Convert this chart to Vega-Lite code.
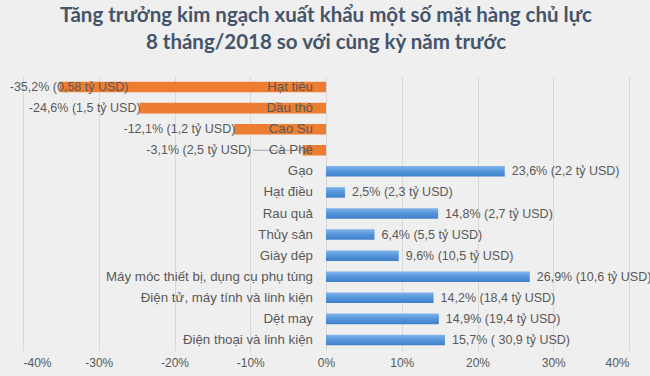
{
  "$schema": "https://vega.github.io/schema/vega-lite/v6.json",
  "width": 606,
  "height": 274,
  "autosize": "none",
  "padding": {"left": 23, "top": 76.5, "right": 21, "bottom": 25.5},
  "background": "#efefef",
  "title": {
    "text": ["Tăng trưởng kim ngạch xuất khẩu một số mặt hàng chủ lực", "8 tháng/2018 so với cùng kỳ năm trước"],
    "font": "Lato",
    "fontSize": 20.5,
    "fontWeight": "bold",
    "color": "#44546A",
    "lineHeight": 27,
    "anchor": "middle",
    "offset": 23
  },
  "data": {
    "values": [
      {"name": "Hạt tiêu", "value": -35.2, "label": "-35,2% (0,58 tỷ USD)"},
      {"name": "Dầu thô", "value": -24.6, "label": "-24,6% (1,5 tỷ USD)"},
      {"name": "Cao Su", "value": -12.1, "label": "-12,1% (1,2 tỷ USD)"},
      {"name": "Cà Phê", "value": -3.1, "label": "-3,1% (2,5 tỷ USD)"},
      {"name": "Gạo", "value": 23.6, "label": "23,6% (2,2 tỷ USD)"},
      {"name": "Hạt điều", "value": 2.5, "label": "2,5% (2,3 tỷ USD)"},
      {"name": "Rau quả", "value": 14.8, "label": "14,8% (2,7 tỷ USD)"},
      {"name": "Thủy sản", "value": 6.4, "label": "6,4% (5,5 tỷ USD)"},
      {"name": "Giày dép", "value": 9.6, "label": "9,6% (10,5 tỷ USD)"},
      {"name": "Máy móc thiết bị, dụng cụ phụ tùng", "value": 26.9, "label": "26,9% (10,6 tỷ USD)"},
      {"name": "Điện tử, máy tính và linh kiện", "value": 14.2, "label": "14,2% (18,4 tỷ USD)"},
      {"name": "Dệt may", "value": 14.9, "label": "14,9% (19,4 tỷ USD)"},
      {"name": "Điện thoại và linh kiện", "value": 15.7, "label": "15,7% ( 30,9 tỷ USD)"}
    ]
  },
  "encoding": {
    "y": {
      "field": "name",
      "type": "nominal",
      "sort": null,
      "scale": {"paddingInner": 0.5, "paddingOuter": 0.25},
      "axis": null
    }
  },
  "layer": [
    {
      "mark": {"type": "bar", "color": "#ED7D31"},
      "transform": [{"filter": "datum.value < 0"}],
      "encoding": {
        "x": {
          "field": "value",
          "type": "quantitative",
          "scale": {"domain": [-40, 40], "nice": false},
          "axis": {
            "values": [-40, -30, -20, -10, 0, 10, 20, 30, 40],
            "labelExpr": "datum.value + '%'",
            "domain": false,
            "ticks": false,
            "grid": true,
            "gridColor": "#d9d9d9",
            "gridWidth": 1,
            "labelFont": "Liberation Sans",
            "labelFontSize": 12,
            "labelColor": "#595959",
            "labelPadding": 7,
            "title": null
          }
        },
        "x2": {"datum": 0}
      }
    },
    {
      "mark": {
        "type": "bar",
        "color": {
          "gradient": "linear",
          "x1": 0, "y1": 0, "x2": 0, "y2": 1,
          "stops": [
            {"offset": 0, "color": "#80b4ea"},
            {"offset": 0.5, "color": "#5595dc"},
            {"offset": 1, "color": "#3f80cc"}
          ]
        }
      },
      "transform": [{"filter": "datum.value >= 0"}],
      "encoding": {
        "x": {"field": "value", "type": "quantitative"},
        "x2": {"datum": 0}
      }
    },
    {
      "mark": {"type": "rule", "color": "#a6a6a6", "strokeWidth": 1},
      "transform": [
        {"filter": "datum.value < 0 && datum.value > -10"},
        {"calculate": "-9.6", "as": "lx"}
      ],
      "encoding": {
        "x": {"field": "lx", "type": "quantitative"},
        "x2": {"field": "value"}
      }
    },
    {
      "mark": {"type": "text", "align": "right", "baseline": "middle", "dx": -13, "font": "Liberation Sans", "fontSize": 13.3, "color": "#595959"},
      "encoding": {
        "x": {"datum": 0},
        "text": {"field": "name"}
      }
    },
    {
      "mark": {"type": "text", "align": "right", "baseline": "middle", "dx": 1, "font": "Liberation Sans", "fontSize": 12.5, "color": "#595959"},
      "transform": [
        {"filter": "datum.value < 0"},
        {"calculate": "clamp(datum.value, -26.2, -10)", "as": "lx"}
      ],
      "encoding": {
        "x": {"field": "lx", "type": "quantitative"},
        "text": {"field": "label"}
      }
    },
    {
      "mark": {"type": "text", "align": "left", "baseline": "middle", "dx": 7, "font": "Liberation Sans", "fontSize": 12.5, "color": "#595959"},
      "transform": [{"filter": "datum.value >= 0"}],
      "encoding": {
        "x": {"field": "value", "type": "quantitative"},
        "text": {"field": "label"}
      }
    }
  ],
  "config": {"view": {"stroke": null}}
}
